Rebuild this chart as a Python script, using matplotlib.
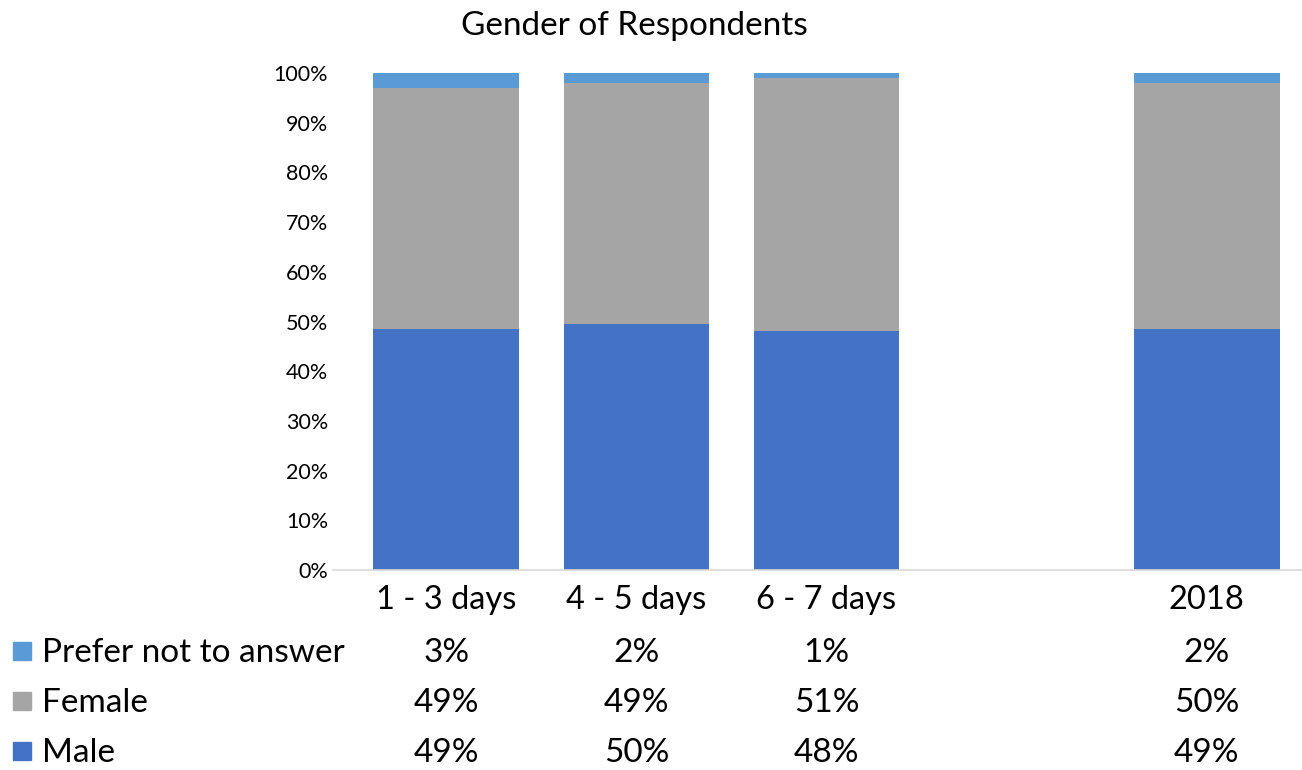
import matplotlib
matplotlib.use("Agg")
import matplotlib.pyplot as plt
import matplotlib.ticker as ticker
import numpy as np

plt.rcParams.update({
    "font.family": ["Lato", "DejaVu Sans"],
    "font.size": 12,
})

categories = ["1 - 3 days", "4 - 5 days", "6 - 7 days", "", "2018"]
male = [49, 50, 48, None, 49]
female = [49, 49, 51, None, 50]
prefer = [3, 2, 1, None, 2]

series = [("Male", male, "#4472C4"),
          ("Female", female, "#A5A5A5"),
          ("Prefer not to answer", prefer, "#5B9BD5")]

fig = plt.figure(figsize=(13.02, 7.70), dpi=100)
ax = fig.add_axes([333 / 1302, 200 / 770, 969 / 1302, 497 / 770])

# stacked to 100% (some columns sum to 101 from rounding)
x = np.arange(len(categories))
valid = [i for i in x if male[i] is not None]
tot = np.array([male[i] + female[i] + prefer[i] for i in valid], dtype=float)
bottom = np.zeros(len(valid))
for name, vals, col in series:
    v = np.array([vals[i] for i in valid], dtype=float) / tot
    ax.bar(x[valid], v, bottom=bottom, width=0.765, color=col, linewidth=0, zorder=2)
    bottom += v

ax.set_xlim(-0.595, 4.5)
ax.set_ylim(0, 1)
ax.yaxis.set_major_locator(ticker.MultipleLocator(0.1))
ax.yaxis.set_major_formatter(ticker.PercentFormatter(1.0, decimals=0))
ax.tick_params(axis="y", length=0, labelsize=15.5, pad=3.5)
ax.tick_params(axis="x", length=0, labelbottom=False)
for s in ["top", "right", "left"]:
    ax.spines[s].set_visible(False)
ax.spines["bottom"].set_color("#D9D9D9")
ax.spines["bottom"].set_linewidth(1.2)

# data table below the plot
tx = ax.get_xaxis_transform()
def ypos(py):
    return (570 - py) / 497

for i, c in enumerate(categories):
    ax.text(i, ypos(600), c, transform=tx, ha="center", va="center",
            fontsize=23.5, clip_on=False)

rows = [(651, "Prefer not to answer", prefer, "#5B9BD5"),
        (701, "Female", female, "#A5A5A5"),
        (751, "Male", male, "#4472C4")]
for py, name, vals, col in rows:
    fy = 1 - py / 770
    fig.patches.append(plt.Rectangle((13 / 1302, fy - 9 / 770), 18 / 1302, 18 / 770,
                                     transform=fig.transFigure, color=col))
    ty = py + 2
    fig.text(42 / 1302, 1 - ty / 770, name, ha="left", va="center", fontsize=24)
    for i, v in enumerate(vals):
        if v is None:
            continue
        ax.text(i, ypos(ty), f"{v}%", transform=tx, ha="center", va="center",
                fontsize=24, clip_on=False)

fig.text(634 / 1302, 1 - 26 / 770, "Gender of Respondents", ha="center", va="center",
         fontsize=24)

fig.savefig("out.png", dpi=100)
